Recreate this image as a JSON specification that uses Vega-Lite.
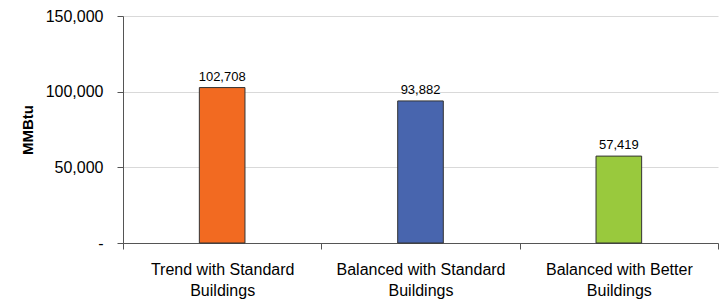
{
  "$schema": "https://vega.github.io/schema/vega-lite/v6.json",
  "width": 595,
  "height": 227,
  "autosize": {"type": "none"},
  "padding": {"left": 123, "top": 16, "right": 1, "bottom": 59},
  "background": "white",
  "config": {
    "view": {"stroke": null},
    "font": "Liberation Sans"
  },
  "data": {
    "values": [
      {"scenario": "Trend with Standard Buildings", "mmbtu": 102708, "color": "#F26A21"},
      {"scenario": "Balanced with Standard Buildings", "mmbtu": 93882, "color": "#4865AE"},
      {"scenario": "Balanced with Better Buildings", "mmbtu": 57419, "color": "#99C93D"}
    ]
  },
  "encoding": {
    "x": {
      "field": "scenario",
      "type": "nominal",
      "sort": null,
      "scale": {"paddingInner": 0, "paddingOuter": 0},
      "axis": {
        "title": null,
        "labelAngle": 0,
        "labelFontSize": 16,
        "labelColor": "#000",
        "labelPadding": 12,
        "labelLineHeight": 21,
        "labelExpr": "datum.label ? [replace(datum.label, ' Buildings', ''), 'Buildings'] : ''",
        "tickBand": "extent",
        "tickSize": 6,
        "tickColor": "#555",
        "domainColor": "#555",
        "grid": false
      }
    },
    "y": {
      "field": "mmbtu",
      "type": "quantitative",
      "scale": {"domain": [0, 150000], "nice": false},
      "axis": {
        "title": "MMBtu",
        "titleFontSize": 15,
        "titleFontWeight": "bold",
        "titleColor": "#000",
        "titlePadding": 10,
        "values": [0, 50000, 100000, 150000],
        "labelExpr": "datum.value == 0 ? '-' : format(datum.value, ',')",
        "labelFontSize": 16,
        "labelColor": "#000",
        "labelPadding": 14,
        "tickSize": 6,
        "tickColor": "#555",
        "domainColor": "#555",
        "gridColor": "#d9d9d9"
      }
    }
  },
  "layer": [
    {
      "mark": {"type": "bar", "width": {"band": 0.23}, "stroke": "#333", "strokeWidth": 1},
      "encoding": {
        "color": {"field": "color", "type": "nominal", "scale": null, "legend": null}
      }
    },
    {
      "mark": {"type": "text", "dy": -4, "fontSize": 13, "color": "#000", "baseline": "bottom"},
      "encoding": {
        "text": {"field": "mmbtu", "type": "quantitative", "format": ","}
      }
    }
  ]
}
